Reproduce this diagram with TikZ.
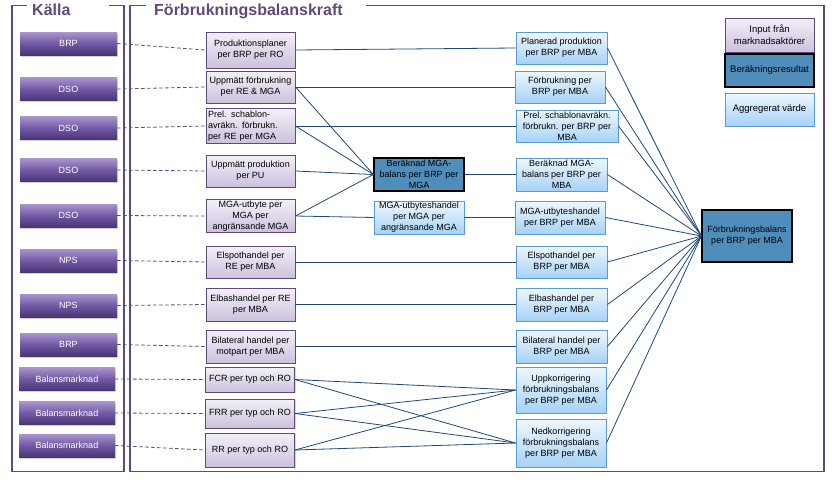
\documentclass[tikz,border=0pt]{standalone}
\usepackage{fontspec}
\setmainfont{Liberation Sans}
\usetikzlibrary{shadows}

\definecolor{ramlila}{HTML}{604A7B}
\definecolor{linjeblå}{HTML}{1F497D}
\definecolor{inptop}{HTML}{F3F0F8}
\definecolor{inpbot}{HTML}{CCC1DD}
\definecolor{aggtop}{HTML}{EEF7FE}
\definecolor{aggbot}{HTML}{A6D2F6}
\definecolor{aggkant}{HTML}{5B9BD5}
\definecolor{resfyll}{HTML}{4F8DBB}
\definecolor{knapptop}{HTML}{A896CC}
\definecolor{knappmitt}{HTML}{7259A5}
\definecolor{knappbot}{HTML}{4A3574}

\tikzset{
  kalla/.style={top color=knapptop, bottom color=knappbot, middle color=knappmitt,
    text=white, minimum width=97pt, minimum height=23pt, inner sep=1pt,
    font=\fontsize{9}{11}\selectfont,
    drop shadow={shadow xshift=1.2pt, shadow yshift=-1.5pt, opacity=0.35}},
  indata/.style={draw=ramlila, line width=0.9pt, top color=inptop, bottom color=inpbot,
    minimum width=89pt, align=center, inner sep=1pt, font=\fontsize{9}{11}\selectfont,
    drop shadow={shadow xshift=1pt, shadow yshift=-1.2pt, opacity=0.3}},
  aggr/.style={draw=aggkant, line width=0.9pt, top color=aggtop, bottom color=aggbot,
    minimum width=91pt, align=center, inner sep=1pt, font=\fontsize{9}{11}\selectfont,
    drop shadow={shadow xshift=1pt, shadow yshift=-1.2pt, opacity=0.3}},
  berakn/.style={draw=black, line width=1.2pt, fill=resfyll,
    minimum width=90pt, align=center, inner sep=1pt, font=\fontsize{9}{11}\selectfont,
    drop shadow={shadow xshift=1pt, shadow yshift=-1.2pt, opacity=0.3}},
  rubrik/.style={text=ramlila, font=\bfseries\fontsize{16}{18}\selectfont, anchor=base west, inner sep=0pt},
  ram/.style={draw=ramlila, line width=1.2pt},
  koppling/.style={draw=linjeblå, line width=0.8pt},
  matning/.style={draw=ramlila, line width=0.8pt, dash pattern=on 3.5pt off 2.5pt}
}

\begin{document}
\begin{tikzpicture}[x=1pt,y=-1pt]
\useasboundingbox[fill=white] (0,0) rectangle (832,482);

\draw[ram] (27,5.5) -- (12,5.5) -- (12,471.5) -- (124,471.5) -- (124,5.5) -- (109,5.5);
\draw[ram] (146,5.5) -- (130,5.5) -- (130,471.5) -- (824,471.5) -- (824,5.5) -- (366,5.5);
\node[rubrik] (tkalla) at (32,15) {Källa};
\node[rubrik] (tkraft) at (154,15) {Förbrukningsbalanskraft};

\node[kalla] (k1) at (68.5,43.5) {BRP};
\node[kalla] (k2) at (68.5,89) {DSO};
\node[kalla] (k3) at (68.5,128) {DSO};
\node[kalla] (k4) at (68.5,170) {DSO};
\node[kalla] (k5) at (68.5,215.5) {DSO};
\node[kalla] (k6) at (68.5,260.5) {NPS};
\node[kalla] (k7) at (68.5,305.5) {NPS};
\node[kalla] (k8) at (68.5,344.5) {BRP};
\node[kalla,minimum width=96pt] (k9) at (67,379) {Balansmarknad};
\node[kalla,minimum width=96pt] (k10) at (67,413) {Balansmarknad};
\node[kalla,minimum width=96pt] (k11) at (67,445.5) {Balansmarknad};

\node[indata,minimum height=36pt] (p1) at (250.5,50) {Produktionsplaner\\per BRP per RO};
\node[indata,minimum height=32pt] (p2) at (250.5,87) {Uppmätt förbrukning\\per RE \& MGA};
\node[indata,minimum height=32pt,text width=85pt,align=left,inner sep=2pt] (p3) at (250.5,126) {Prel. schablon-\\avräkn. förbrukn.\\per RE per MGA};
\node[indata,minimum height=32pt] (p4) at (250.5,171) {Uppmätt produktion\\per PU};
\node[indata,minimum height=32pt] (p5) at (250.5,216) {MGA-utbyte per\\MGA per\\angränsande MGA};
\node[indata,minimum height=32pt] (p6) at (250.5,262) {Elspothandel per\\RE per MBA};
\node[indata,minimum height=33pt] (p7) at (250.5,304.5) {Elbashandel per RE\\per MBA};
\node[indata,minimum height=33pt] (p8) at (250.5,346.5) {Bilateral handel per\\motpart per MBA};
\node[indata,minimum height=25pt] (p9) at (250,379.5) {FCR per typ och RO};
\node[indata,minimum height=29pt] (p10) at (250,413.5) {FRR per typ och RO};
\node[indata,minimum height=34pt] (p11) at (250,450) {RR per typ och RO};

\node[berakn,minimum height=33pt] (mgab) at (419,174.5) {Beräknad MGA-\\balans per BRP per\\MGA};
\node[aggr,minimum width=90pt,minimum height=33pt] (mgau) at (419,217.5) {MGA-utbyteshandel\\per MGA  per\\angränsande MGA};

\node[aggr,minimum height=32pt] (r1) at (561.5,48) {Planerad produktion\\per BRP per MBA};
\node[aggr,minimum width=90pt,minimum height=32pt] (r2) at (560,87) {Förbrukning per\\BRP per MBA};
\node[aggr,minimum width=102pt,minimum height=32pt] (r3) at (567,126) {Prel. schablonavräkn.\\förbrukn. per BRP per\\MBA};
\node[aggr,minimum height=33pt] (r4) at (561.5,174.5) {Beräknad MGA-\\balans per BRP per\\MBA};
\node[aggr,minimum width=90pt,minimum height=33pt] (r5) at (560,217.5) {MGA-utbyteshandel\\per BRP per MBA};
\node[aggr,minimum height=32pt] (r6) at (561.5,262) {Elspothandel per\\BRP per MBA};
\node[aggr,minimum height=33pt] (r7) at (561.5,304.5) {Elbashandel per\\BRP per MBA};
\node[aggr,minimum height=33pt] (r8) at (561.5,346.5) {Bilateral handel per\\BRP per MBA};
\node[aggr,minimum width=90pt,minimum height=46pt] (r9) at (561,390) {Uppkorrigering\\förbrukningsbalans\\per BRP per MBA};
\node[aggr,minimum width=90pt,minimum height=48pt] (r10) at (561,443) {Nedkorrigering\\förbrukningsbalans\\per BRP per MBA};

\node[berakn,minimum height=52pt] (fbal) at (747,236) {Förbrukningsbalans\\per BRP per MBA};

\node[indata,minimum height=34pt,font=\fontsize{9.5}{12}\selectfont] (leg1) at (769.5,35) {Input från\\marknadsaktörer};
\node[berakn,minimum width=89pt,minimum height=33pt,font=\fontsize{9.5}{12}\selectfont] (leg2) at (769.5,70.5) {Beräkningsresultat};
\node[aggr,minimum width=89pt,minimum height=33pt,font=\fontsize{9.5}{12}\selectfont] (leg3) at (769.5,109.5) {Aggregerat värde};

\foreach \i in {1,...,11}
  \draw[matning] (k\i.east) -- (p\i.west);

\draw[koppling] (p1.east) -- (r1.west);
\draw[koppling] (p2.east) -- (r2.west);
\draw[koppling] (p3.east) -- (r3.west);
\draw[koppling] (p2.east) -- (mgab.west);
\draw[koppling] (p3.east) -- (mgab.west);
\draw[koppling] (p4.east) -- (mgab.west);
\draw[koppling] (p5.east) -- (mgab.west);
\draw[koppling] (p5.east) -- (mgau.west);
\draw[koppling] (mgab.east) -- (r4.west);
\draw[koppling] (mgau.east) -- (r5.west);
\draw[koppling] (p6.east) -- (r6.west);
\draw[koppling] (p7.east) -- (r7.west);
\draw[koppling] (p8.east) -- (r8.west);
\draw[koppling] (p9.east) -- (r9.west);
\draw[koppling] (p9.east) -- (r10.west);
\draw[koppling] (p10.east) -- (r9.west);
\draw[koppling] (p10.east) -- (r10.west);
\draw[koppling] (p11.east) -- (r9.west);
\draw[koppling] (p11.east) -- (r10.west);

\foreach \i in {1,...,10}
  \draw[koppling] (r\i.east) -- (fbal.west);
\end{tikzpicture}
\end{document}
